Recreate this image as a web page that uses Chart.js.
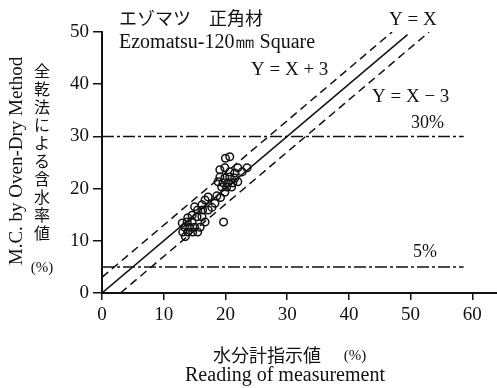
<!DOCTYPE html>
<html>
<head>
<meta charset="utf-8">
<script src="https://cdn.jsdelivr.net/npm/chart.js@4/dist/chart.umd.min.js"></script>
<style>
  html, body { margin: 0; padding: 0; background: #fff; }
  #wrap { width: 497px; height: 388px; }
</style>
</head>
<body>
<div id="wrap"><canvas id="c" width="497" height="388"></canvas></div>
<script>
// Meter reading (%) against oven-dry moisture content (%), Ezomatsu 120 mm square timber
const meterReading = [
  13.0, 13.4, 13.1, 13.9, 14.2, 13.8, 14.6, 15.0, 14.7, 15.5, 15.9, 15.4, 14.6, 16.2, 16.7,
  16.3, 15.5, 17.2, 15.0, 16.2, 13.9, 13.5,
  16.7, 17.2, 18.3, 18.6, 17.8, 19.2,
  19.1, 19.9, 22.0, 23.5, 21.5, 22.7, 19.1, 19.9, 20.7, 21.5, 18.8, 19.6, 20.4, 21.2, 22.0,
  20.2, 21.0, 19.4, 19.9, 20.7,
  20.0, 20.7,
  19.7
];
const ovenDryMC = [
  13.4, 12.6, 11.7, 11.7, 12.6, 13.6, 13.6, 12.6, 11.7, 11.7, 12.6, 14.6, 14.9, 14.6, 13.6,
  15.9, 15.9, 15.9, 16.5, 16.9, 14.4, 10.8,
  17.8, 18.4, 17.2, 18.6, 16.4, 18.3,
  23.6, 24.0, 24.0, 24.0, 23.0, 23.2, 22.2, 22.0, 22.2, 22.0, 21.3, 21.1, 21.1, 21.1, 21.3,
  20.3, 20.3, 20.3, 19.3, 23.2,
  25.8, 26.1,
  13.6
];

// Reference lines
const equalX = [0, 49.5];
const equalY = [0, 49.5];
const plus3X = [0, 47];
const plus3Y = [3, 50];
const minus3X = [3, 53];
const minus3Y = [0, 50];
const limitX = [0, 58.6];
const limit30Y = [30, 30];
const limit5Y = [5, 5];

// Axis ticks
const xTicks = [0, 10, 20, 30, 40, 50, 60];
const yTicks = [0, 10, 20, 30, 40, 50];

const toPoints = (xs, ys) => xs.map((v, i) => ({ x: v, y: ys[i] }));

const SERIF = '"Liberation Serif", "DejaVu Serif", serif';
const JP = '"Noto Sans CJK JP", sans-serif';

const lineSet = (xs, ys, dash, width) => ({
  type: 'line',
  data: toPoints(xs, ys),
  borderColor: '#111',
  borderWidth: width,
  borderDash: dash,
  pointRadius: 0,
  fill: false,
  tension: 0
});

const labelsPlugin = {
  id: 'chartTexts',
  afterDraw(chart) {
    const ctx = chart.ctx;
    ctx.save();
    ctx.fillStyle = '#111';
    ctx.textBaseline = 'middle';
    ctx.textAlign = 'left';

    // heading
    ctx.font = '18px ' + JP;
    ctx.fillText('エゾマツ　正角材', 119, 18);
    ctx.font = '20px ' + SERIF;
    ctx.fillText('Ezomatsu-120㎜ Square', 119, 43);

    // line captions
    ctx.font = '19px ' + SERIF;
    ctx.fillText('Y = X', 389, 20);
    ctx.fillText('Y = X + 3', 251, 70);
    ctx.fillText('Y = X − 3', 372, 97);
    ctx.font = '18px ' + SERIF;
    ctx.fillText('30%', 411, 123);
    ctx.fillText('5%', 413, 252);

    // x axis title
    ctx.textAlign = 'center';
    ctx.font = '18px ' + JP;
    ctx.fillText('水分計指示値', 267, 355);
    ctx.font = '15px ' + SERIF;
    ctx.fillText('(%)', 355, 356);
    ctx.font = '20px ' + SERIF;
    ctx.fillText('Reading of measurement', 285, 376);

    // y axis titles
    ctx.font = '16px ' + JP;
    const jpTitle = '全乾法による含水率値';
    for (let i = 0; i < jpTitle.length; i++) {
      ctx.fillText(jpTitle[i], 42, 71 + i * 18);
    }
    ctx.font = '15px ' + SERIF;
    ctx.fillText('(%)', 42, 268);

    ctx.translate(17, 161);
    ctx.rotate(-Math.PI / 2);
    ctx.font = '19px ' + SERIF;
    ctx.fillText('M.C. by Oven-Dry Method', 0, 0);
    ctx.restore();
  }
};

new Chart(document.getElementById('c'), {
  data: {
    datasets: [
      {
        type: 'scatter',
        data: toPoints(meterReading, ovenDryMC),
        pointRadius: 3.8,
        pointBorderWidth: 1.5,
        pointBorderColor: '#111',
        pointBackgroundColor: 'rgba(255,255,255,0)'
      },
      lineSet(equalX, equalY, [], 1.5),
      lineSet(plus3X, plus3Y, [8, 5], 1.5),
      lineSet(minus3X, minus3Y, [8, 5], 1.5),
      lineSet(limitX, limit30Y, [12, 3, 3, 3], 1.5),
      lineSet(limitX, limit5Y, [12, 3, 3, 3], 1.5)
    ]
  },
  options: {
    responsive: false,
    animation: false,
    devicePixelRatio: 1,
    layout: { autoPadding: false, padding: { top: 32, right: 0, bottom: 0, left: 0 } },
    plugins: {
      legend: { display: false },
      tooltip: { enabled: false }
    },
    scales: {
      x: {
        type: 'linear',
        min: 0,
        max: 64,
        afterFit(s) { s.height = 95; },
        afterBuildTicks(s) { s.ticks = xTicks.map(v => ({ value: v })); },
        ticks: { color: '#111', font: { family: SERIF, size: 19 }, padding: 4, maxRotation: 0 },
        grid: { drawOnChartArea: false, drawTicks: true, tickLength: 7, color: '#111', lineWidth: 1.5 },
        border: { display: true, color: '#111', width: 2 }
      },
      y: {
        type: 'linear',
        min: 0,
        max: 50,
        afterFit(s) { s.width = 102; },
        afterBuildTicks(s) { s.ticks = yTicks.map(v => ({ value: v })); },
        ticks: { color: '#111', font: { family: SERIF, size: 19 }, padding: 4 },
        grid: { drawOnChartArea: false, drawTicks: true, tickLength: 9, color: '#111', lineWidth: 1.5 },
        border: { display: true, color: '#111', width: 2 }
      }
    }
  },
  plugins: [labelsPlugin]
});
</script>
</body>
</html>
